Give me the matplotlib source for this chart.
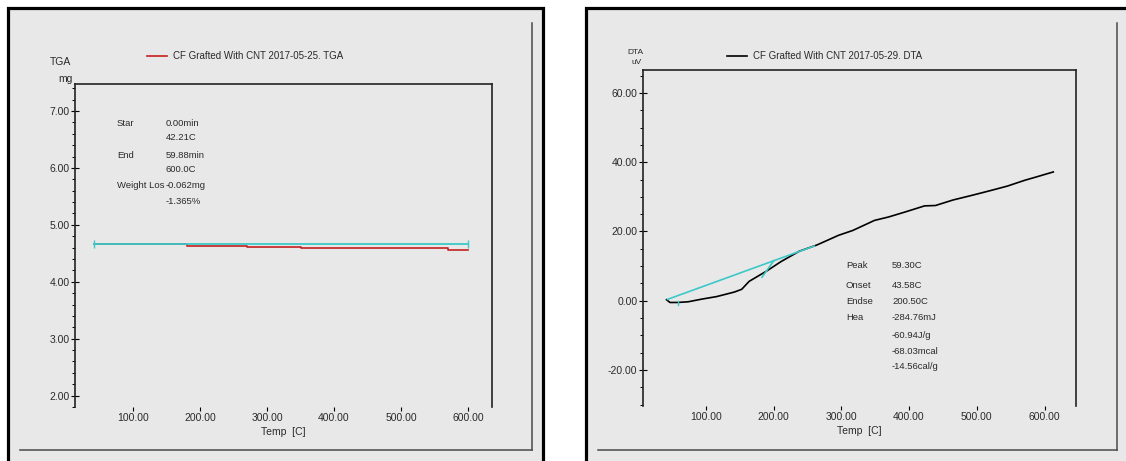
import matplotlib.pyplot as plt
from matplotlib.lines import Line2D
from matplotlib.patches import Rectangle
from matplotlib.ticker import MultipleLocator, FormatStrFormatter

plt.rcParams['font.family'] = ['Liberation Sans', 'DejaVu Sans']

W, H = 1126, 461
PANEL = '#e8e8e8'
INK = '#2a2a2a'
CYAN = '#3cc8c8'

# TGA run: sample mass (mg) against temperature (C)
tga_temp = [42.2, 181, 270, 350, 570, 600.0]
tga_mass = [4.665, 4.63, 4.61, 4.59, 4.565, 4.565]
tga_start = 42.2
tga_end = 600.0
tga_base_mass = 4.665

# DTA run: signal (uV) against temperature (C)
dta_temp = [42, 47, 58, 74, 95, 116, 142, 153, 164, 190, 211, 238, 264, 296,
            317, 349, 370, 397, 423, 439, 465, 492, 518, 545, 571, 587, 613]
dta_uv = [0.3, -0.5, -0.5, -0.3, 0.5, 1.2, 2.5, 3.3, 5.6, 8.6, 11.3, 14.3, 16.1,
          18.9, 20.3, 23.2, 24.2, 25.8, 27.4, 27.5, 29.1, 30.4, 31.7, 33.1, 34.8,
          35.7, 37.2]
dta_peak = 59.3
dta_onset = 43.58
dta_endset = 200.5
dta_base_temp = [dta_onset, 260]
dta_base_uv = [0.4, 15.8]
dta_end_temp = [183, dta_endset]
dta_end_uv = [6.8, 11.6]

tga_labels = ['Star', 'End', 'Weight Los']
tga_values = ['0.00min', '42.21C', '59.88min', '600.0C', '-0.062mg', '-1.365%']
dta_labels = ['Peak', 'Onset', 'Endse', 'Hea']
dta_values = ['59.30C', '43.58C', '200.50C', '-284.76mJ', '-60.94J/g',
              '-68.03mcal', '-14.56cal/g']


def fx(x):
    return x / W


def fy(y):
    return 1 - y / H


def frame(fig, x0, x1):
    # grey panel with heavy outer border and thin inner bevel lines
    fig.add_artist(Rectangle((fx(x0), fy(475)), fx(x1 - x0), (475 - 8) / H,
                             transform=fig.transFigure, facecolor=PANEL,
                             edgecolor='black', lw=2.3, clip_on=False,
                             zorder=-10))
    fig.add_artist(Line2D([fx(x1 - 11), fx(x1 - 11)], [fy(23), fy(450)],
                          transform=fig.transFigure, color='#4a4a4a', lw=1.1,
                          zorder=-5))
    fig.add_artist(Line2D([fx(x0 + 12), fx(x1 - 11)], [fy(450), fy(450)],
                          transform=fig.transFigure, color='#4a4a4a', lw=1.1,
                          zorder=-5))


def style_axes(ax):
    ax.set_facecolor(PANEL)
    ax.spines['bottom'].set_visible(False)
    for s in ('left', 'top', 'right'):
        ax.spines[s].set_color('#222222')
        ax.spines[s].set_linewidth(1.2)
    ax.tick_params(axis='x', direction='out', length=3, width=0.8, pad=1,
                   labelsize=7.5, labelcolor=INK, top=False)
    ax.tick_params(axis='y', which='major', direction='inout', length=6,
                   width=0.8, pad=1, labelsize=7.5, labelcolor=INK, right=False)
    ax.tick_params(axis='y', which='minor', direction='out', length=2.5,
                   width=0.7, right=False)
    ax.xaxis.set_major_locator(MultipleLocator(100))
    ax.xaxis.set_major_formatter(FormatStrFormatter('%.2f'))
    ax.yaxis.set_major_formatter(FormatStrFormatter('%.2f'))
    ax.set_xlabel('Temp  [C]', fontsize=7.5, color=INK, labelpad=3)


fig = plt.figure(figsize=(W / 100, H / 100), dpi=100)
frame(fig, 8, 543)
frame(fig, 586, 1128)

# ---- TGA panel ----
ax1 = fig.add_axes([fx(75), fy(407), fx(492 - 75), (407 - 84) / H])
style_axes(ax1)
tga_line, = ax1.plot(tga_temp, tga_mass, color='#c42020', lw=1.2,
                     drawstyle='steps-post')
ax1.plot([tga_start, tga_end], [tga_base_mass, tga_base_mass], color=CYAN,
         lw=1.3, marker='|', markersize=6, markeredgewidth=1)
ax1.set_xlim(13.4, 635.8)
ax1.set_ylim(1.80, 7.474)
ax1.yaxis.set_major_locator(MultipleLocator(1))
ax1.yaxis.set_minor_locator(MultipleLocator(0.2))
ax1.legend(handles=[tga_line], labels=['CF Grafted With CNT 2017-05-25. TGA'],
           loc='center left', bbox_to_anchor=(fx(147), fy(56)),
           bbox_transform=fig.transFigure, frameon=False, borderpad=0,
           borderaxespad=0, handlelength=2.05, handletextpad=0.6,
           prop={'size': 7}, labelcolor=INK)
fig.text(fx(71), fy(62), 'TGA', fontsize=7.5, color=INK, ha='right', va='center')
fig.text(fx(73), fy(79), 'mg', fontsize=7.5, color=INK, ha='right', va='center')

for lab, y in zip(tga_labels, [123, 155, 186]):
    fig.text(fx(117), fy(y), lab, fontsize=6.8, color=INK, va='center')
for val, y in zip(tga_values, [123, 137, 155, 169, 186, 202]):
    fig.text(fx(166), fy(y), val, fontsize=6.8, color=INK, va='center')

# ---- DTA panel ----
ax2 = fig.add_axes([fx(643), fy(406), fx(1076 - 643), (406 - 70) / H])
style_axes(ax2)
dta_line, = ax2.plot(dta_temp, dta_uv, color='black', lw=1.2)
ax2.plot(dta_base_temp, dta_base_uv, color=CYAN, lw=1.2)
ax2.plot(dta_end_temp, dta_end_uv, color=CYAN, lw=1.2)
ax2.plot([dta_peak, dta_peak], [-1.3, 0.0], color=CYAN, lw=1.0)
ax2.set_xlim(7.3, 646.5)
ax2.set_ylim(-30.4, 66.64)
ax2.yaxis.set_major_locator(MultipleLocator(20))
ax2.yaxis.set_minor_locator(MultipleLocator(5))
ax2.legend(handles=[dta_line], labels=['CF Grafted With CNT 2017-05-29. DTA'],
           loc='center left', bbox_to_anchor=(fx(727), fy(56)),
           bbox_transform=fig.transFigure, frameon=False, borderpad=0,
           borderaxespad=0, handlelength=2.05, handletextpad=0.6,
           prop={'size': 7}, labelcolor=INK)
fig.text(fx(643), fy(52), 'DTA', fontsize=6, color=INK, ha='right', va='center')
fig.text(fx(642), fy(63), 'uV', fontsize=6, color=INK, ha='right', va='center')

for lab, y in zip(dta_labels, [266, 285, 301, 318]):
    fig.text(fx(846), fy(y), lab, fontsize=6.8, color=INK, va='center')
for val, y in zip(dta_values, [266, 285, 301, 318, 335, 351, 366]):
    fig.text(fx(892), fy(y), val, fontsize=6.8, color=INK, va='center')

fig.savefig('out.png', dpi=100)
